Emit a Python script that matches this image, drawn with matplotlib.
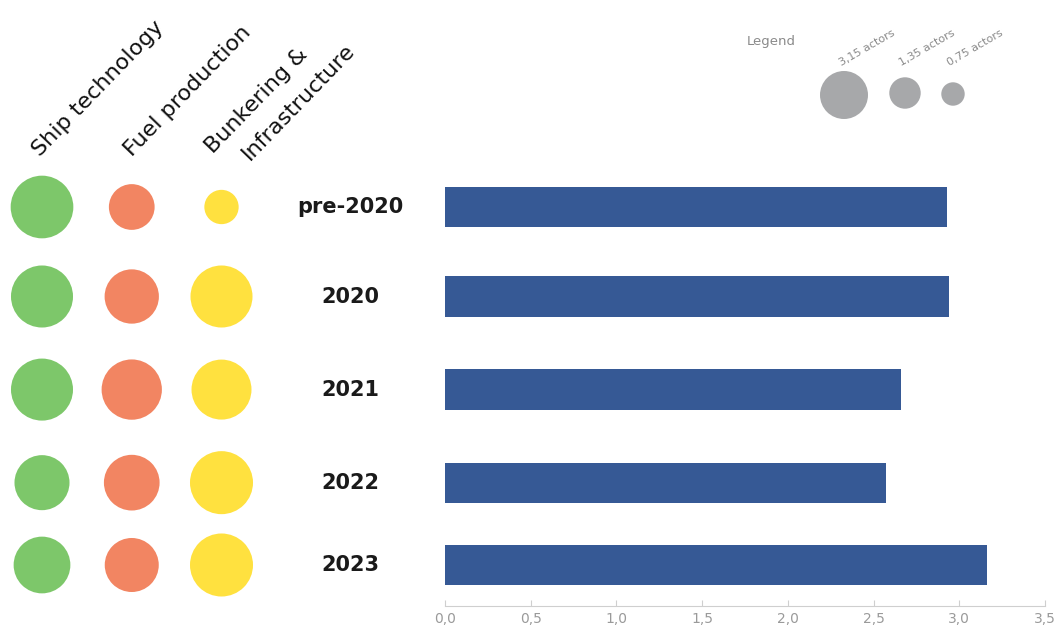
import matplotlib
matplotlib.use('Agg')
import matplotlib.pyplot as plt
from matplotlib.ticker import FuncFormatter

# data
periods = ['pre-2020', '2020', '2021', '2022', '2023']
bar_values = [2.93, 2.94, 2.66, 2.57, 3.16]
categories = ['Ship technology', 'Fuel production', 'Bunkering &\nInfrastructure']
ship_tech = [5.37, 5.26, 5.26, 4.14, 4.40]
fuel_prod = [2.86, 4.03, 4.97, 4.24, 3.99]
bunkering = [1.61, 5.26, 4.92, 5.43, 5.43]
legend_values = [3.15, 1.35, 0.75]
legend_labels = ['3,15 actors', '1,35 actors', '0,75 actors']

# layout / style
W, H = 1057, 626
row_pos = [0, 1.0, 2.04, 3.08, 4.0]
circle_colors = ['#7dc76a', '#f28562', '#ffe13f']
bar_color = '#365995'
size_scale = (0.72 * 48) ** 2 / 3.15   # 3.15 actors -> 48 px circle


def frac_x(px):
    return px / W


def frac_y(px):
    return 1 - px / H


fig = plt.figure(figsize=(W / 100, H / 100), dpi=100)

# y axis shared mapping: row 0 -> 207 px, 89.5 px per row
ylim = ((606 - 207) / 89.5, (150 - 207) / 89.5)
ax_bottom, ax_top = frac_y(606), frac_y(150)

# bar chart
ax = fig.add_axes([frac_x(445), ax_bottom, frac_x(1045) - frac_x(445), ax_top - ax_bottom])
ax.barh(row_pos, bar_values, height=0.45, color=bar_color)
ax.set_xlim(0, 3.5)
ax.set_ylim(*ylim)
ax.set_xticks([0, 0.5, 1.0, 1.5, 2.0, 2.5, 3.0, 3.5])
ax.xaxis.set_major_formatter(FuncFormatter(lambda v, p: f'{v:.1f}'.replace('.', ',')))
ax.tick_params(axis='x', direction='in', length=4, color='#cfcfcf', labelcolor='#9a9a9a',
               labelsize=10, pad=4)
ax.set_yticks([])
for s in ['top', 'right', 'left']:
    ax.spines[s].set_visible(False)
ax.spines['bottom'].set_color('#cfcfcf')
for y, label in zip(row_pos, periods):
    ax.text(-0.157, y, label, transform=ax.get_yaxis_transform(), ha='center', va='center',
            fontsize=15, fontweight='bold', color='#1a1a1a')

# circle columns
axc = fig.add_axes([0, ax_bottom, frac_x(270), ax_top - ax_bottom])
axc.set_xlim(-42 / 89.75, (270 - 42) / 89.75)
axc.set_ylim(*ylim)
axc.axis('off')
for i, vals in enumerate([ship_tech, fuel_prod, bunkering]):
    axc.scatter([i] * len(vals), row_pos, s=[v * size_scale for v in vals],
                color=circle_colors[i], edgecolors='none')

# overlay for headers and legend (pixel coordinates)
ov = fig.add_axes([0, 0, 1, 1])
ov.set_xlim(0, W)
ov.set_ylim(H, 0)
ov.axis('off')
ov.patch.set_alpha(0)

header_anchor = [(40, 157), (132, 157)]
for (x, y), name in zip(header_anchor, categories[:2]):
    ov.text(x, y, name, rotation=46, rotation_mode='anchor', ha='left', va='baseline',
            fontsize=16, color='#111111')
b1, b2 = categories[2].split('\n')
ov.text(213, 154, b1, rotation=46, rotation_mode='anchor', ha='left', va='baseline',
        fontsize=16, color='#111111')
ov.text(250, 161, b2, rotation=46, rotation_mode='anchor', ha='left', va='baseline',
        fontsize=16, color='#111111')

# size legend
ov.text(771, 42, 'Legend', ha='center', va='center', fontsize=9.5, color='#8a8a8a')
legend_x = [844, 905, 953]
ov.scatter(legend_x, [95, 93, 94], s=[v * size_scale for v in legend_values],
           color='#a7a8aa', edgecolors='none')
for x, lab in zip(legend_x, legend_labels):
    ov.text(x - 3, 66, lab, rotation=30, rotation_mode='anchor', ha='left', va='baseline',
            fontsize=8, color='#8a8a8a')

fig.savefig('out.png', dpi=100)
